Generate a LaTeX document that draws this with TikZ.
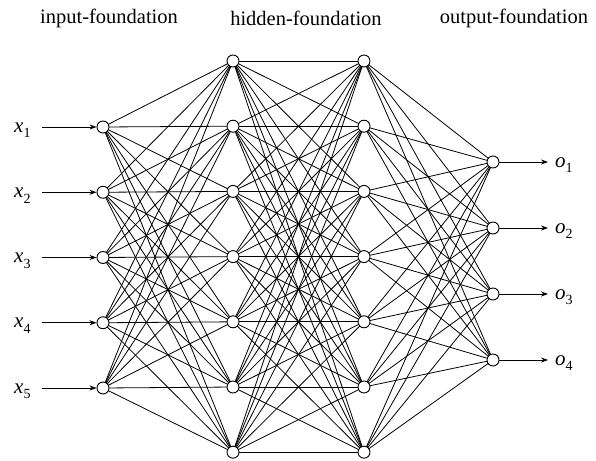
\documentclass[tikz,border=0pt]{standalone}
\usepackage{fontspec}
\setmainfont{Liberation Serif}
\usetikzlibrary{arrows.meta}
\newcommand{\mylab}[2]{{\itshape #1}\raisebox{-0.28em}{\fontsize{14}{14}\selectfont #2}}
\begin{document}
\begin{tikzpicture}[x=1pt,y=-1pt,
  neuron/.style={circle,draw=black,fill=white,line width=0.9pt,minimum size=12pt,inner sep=0pt},
  conn/.style={line width=0.8pt},
  io/.style={line width=0.8pt,-{Stealth[length=7pt,width=5pt]}},
  lbl/.style={font=\fontsize{21}{24}\selectfont,inner sep=0pt},
  ttl/.style={font=\fontsize{20.5}{24}\selectfont}]
\useasboundingbox (0,0) rectangle (596,460);
% titles
\node[ttl] (t1) at (109,18) {input-foundation};
\node[ttl] (t2) at (306,18) {hidden-foundation};
\node[ttl] (t3) at (514,18) {output-foundation};
% coordinates
\foreach \i in {1,...,5}{
  \coordinate (pi\i) at (103,{127+65.25*(\i-1)});
}
\foreach \i in {1,...,7}{
  \coordinate (pa\i) at (233,{61+65.2*(\i-1)});
  \coordinate (pb\i) at (364,{61+65.2*(\i-1)});
}
\foreach \i in {1,...,4}{
  \coordinate (po\i) at (493,{162+66*(\i-1)});
}
% connections
\foreach \i in {1,...,5}{
  \foreach \j in {1,...,7}{
    \draw[conn] (pi\i) -- (pa\j);
  }
}
\foreach \i in {1,...,7}{
  \foreach \j in {1,...,7}{
    \draw[conn] (pa\i) -- (pb\j);
  }
}
\foreach \i in {1,...,7}{
  \foreach \j in {1,...,4}{
    \draw[conn] (pb\i) -- (po\j);
  }
}
% neurons
\foreach \i in {1,...,5}{ \node[neuron] (in\i) at (pi\i) {}; }
\foreach \i in {1,...,7}{ \node[neuron] (ha\i) at (pa\i) {}; \node[neuron] (hb\i) at (pb\i) {}; }
\foreach \i in {1,...,4}{ \node[neuron] (out\i) at (po\i) {}; }
% inputs
\foreach \i in {1,...,5}{
  \node[lbl,anchor=base west] (x\i) at (14,{127+65.25*(\i-1)+5}) {\mylab{x}{\i}};
  \coordinate (xs\i) at (42,{127+65.25*(\i-1)});
  \draw[io] (xs\i) -- (in\i.west);
}
% outputs
\foreach \i in {1,...,4}{
  \node[lbl,anchor=base west] (o\i) at (555,{162+66*(\i-1)+5}) {\mylab{o}{\i}};
  \coordinate (oe\i) at (548,{162+66*(\i-1)});
  \draw[io] (out\i.east) -- (oe\i);
}
\end{tikzpicture}
\end{document}
